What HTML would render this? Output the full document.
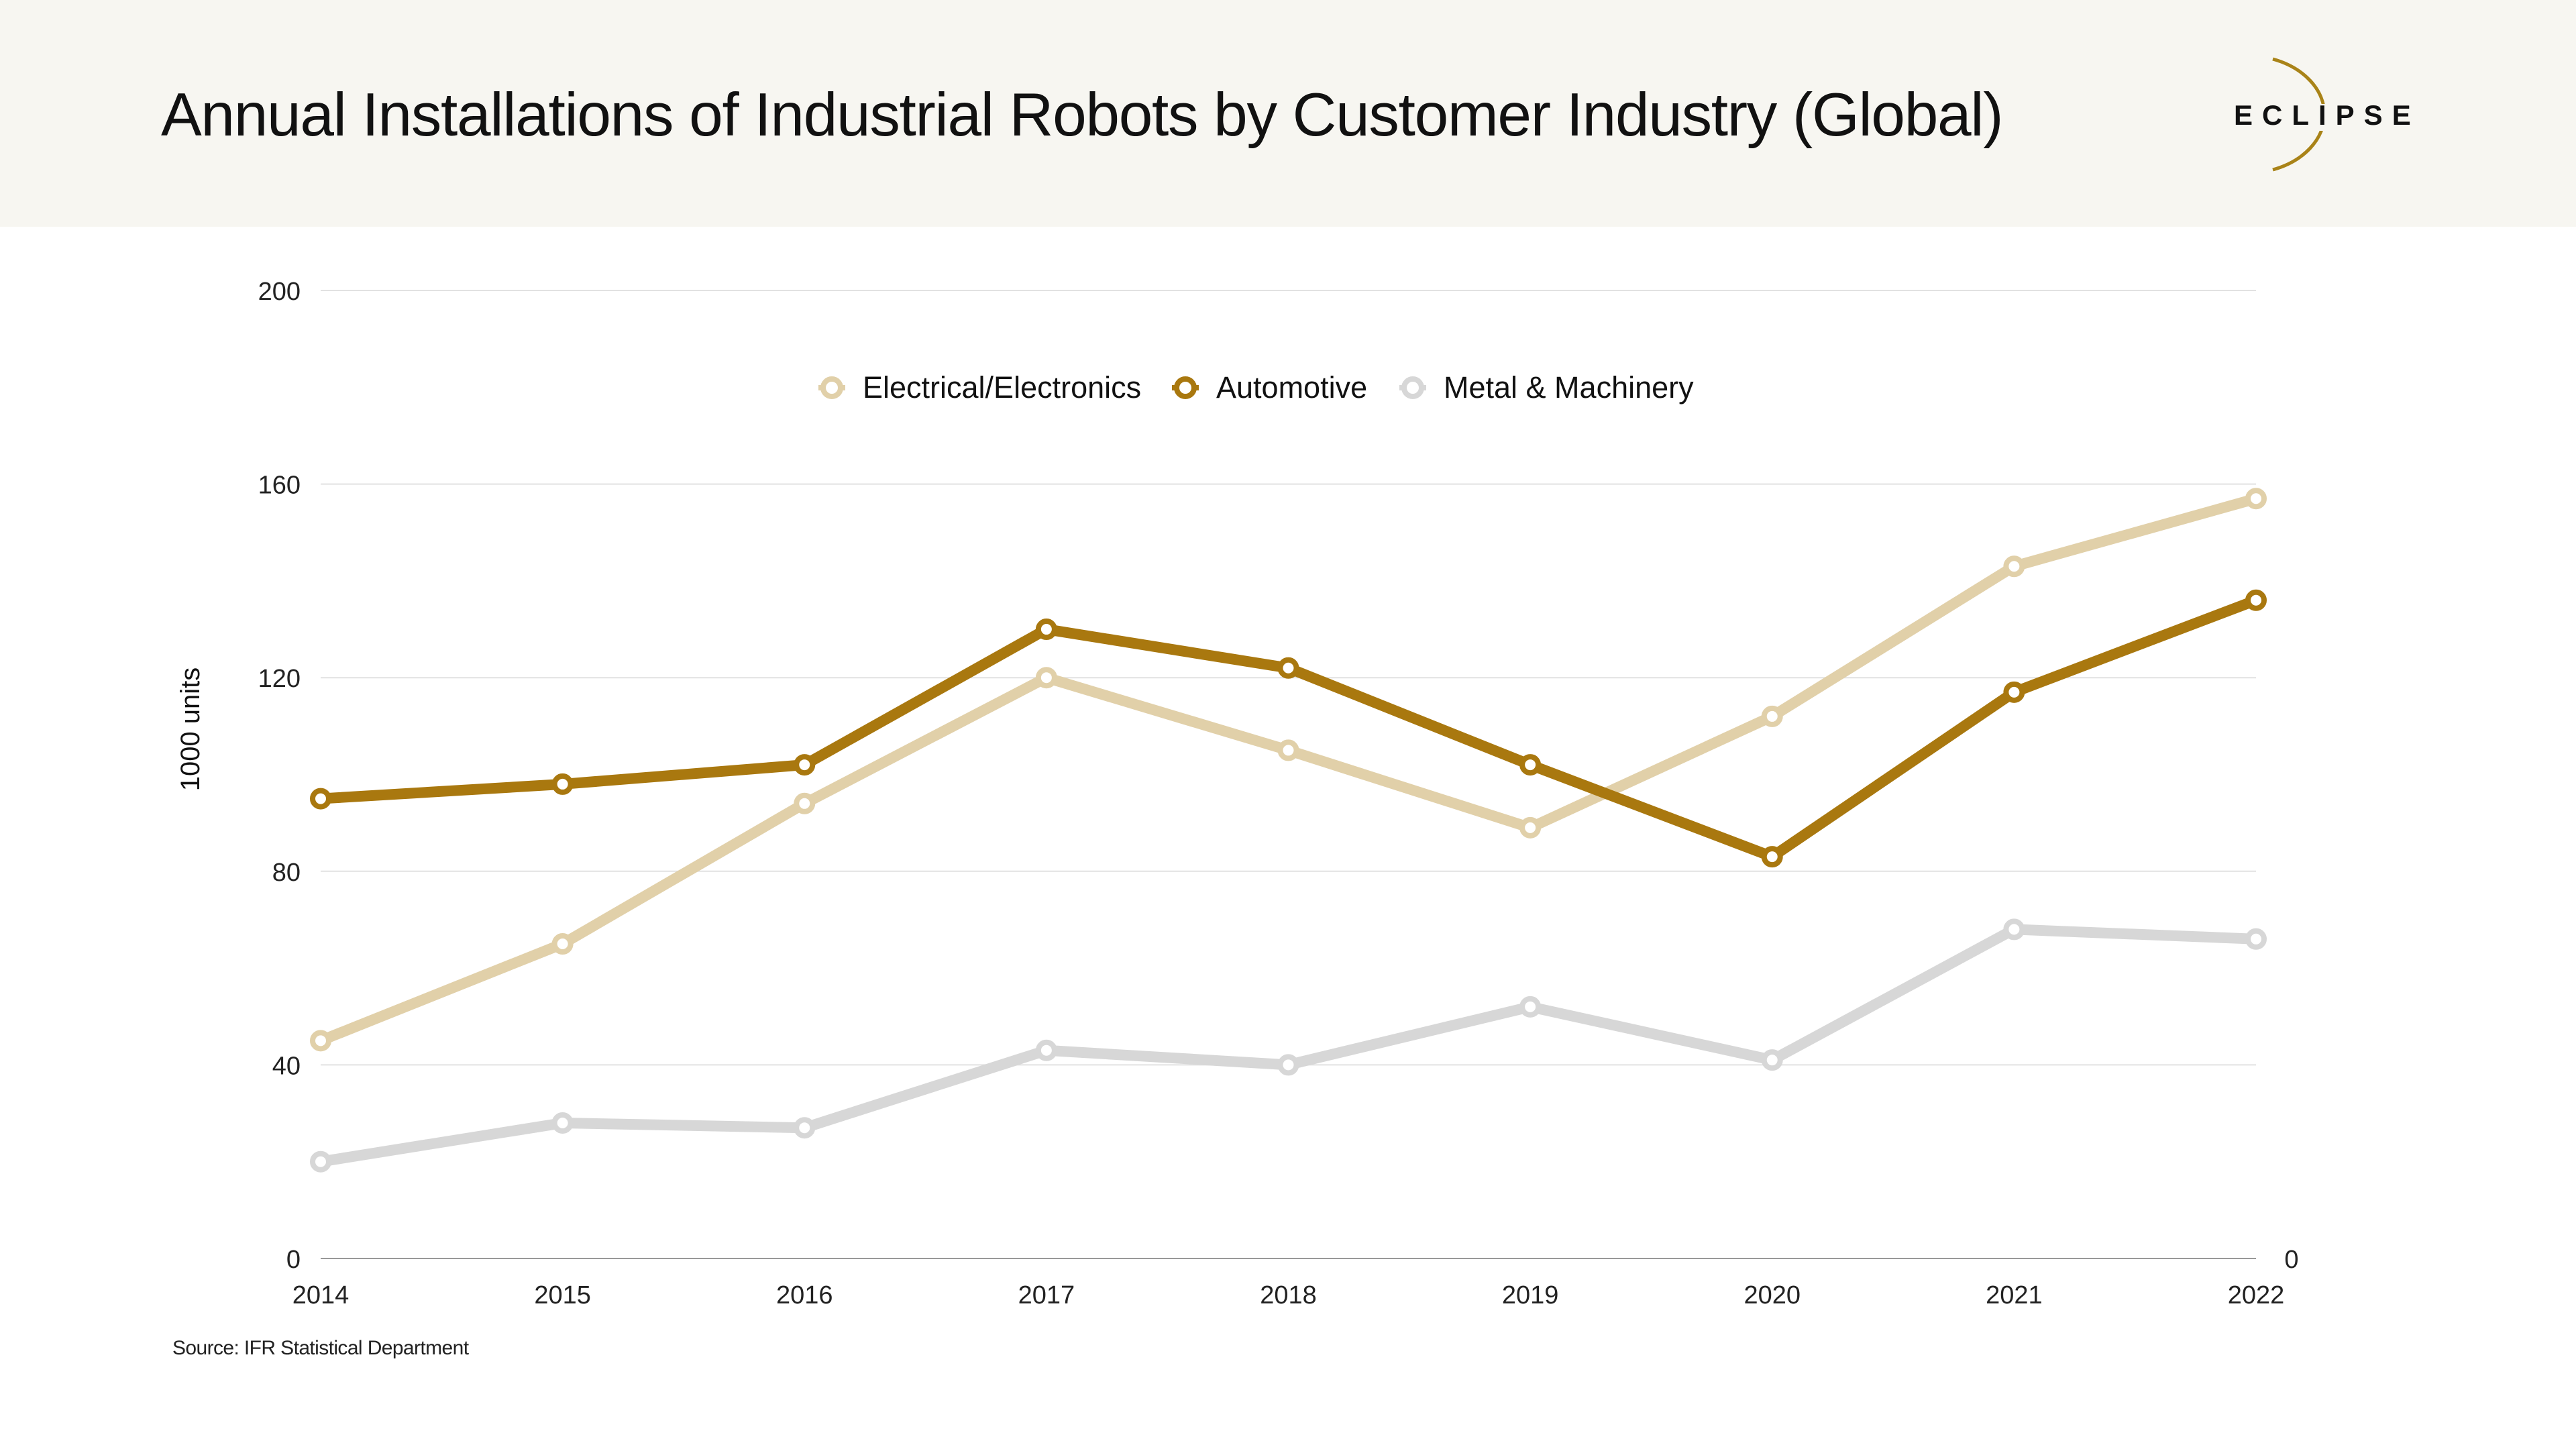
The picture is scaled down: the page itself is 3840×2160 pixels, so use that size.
<!DOCTYPE html>
<html><head><meta charset="utf-8"><style>
body{margin:0;width:3840px;height:2160px;background:#fff;font-family:"Liberation Sans",sans-serif;overflow:hidden;position:relative}
#hdr{position:absolute;left:0;top:0;width:3840px;height:338px;background:#f7f6f1}
#title{position:absolute;left:240px;top:120px;font-size:91px;color:#111;letter-spacing:-1.3px;white-space:nowrap}
#src{position:absolute;left:257px;top:1993px;font-size:30px;color:#222;letter-spacing:-0.6px}
</style></head><body>
<div id="hdr"></div>
<div id="title">Annual Installations of Industrial Robots by Customer Industry (Global)</div>
<svg style="position:absolute;left:0;top:0" width="3840" height="338">
<path d="M3388 88 A118 88 0 0 1 3388 253" fill="none" stroke="#a98318" stroke-width="5"/>
<rect x="3450" y="155" width="22" height="40" fill="#f7f6f1"/>
<text x="3330" y="186" font-size="42" font-weight="bold" letter-spacing="14" fill="#111" font-family="Liberation Sans, sans-serif">ECLIPSE</text>
</svg>
<div id="src">Source: IFR Statistical Department</div>
<svg id="chart" style="position:absolute;left:0;top:0" width="3840" height="2160"></svg>
<script>
const years=["2014","2015","2016","2017","2018","2019","2020","2021","2022"];
const electrical=[45,65,94,120,105,89,112,143,157];
const automotive=[95,98,102,130,122,102,83,117,136];
const metal=[20,28,27,43,40,52,41,68,66];
const yTicks=[0,40,80,120,160,200];
const seriesNames=["Electrical/Electronics","Automotive","Metal & Machinery"];
const seriesColors=["#e1d0a9","#a9780f","#d7d7d7"];
const NS="http://www.w3.org/2000/svg";
const svg=document.getElementById('chart');
const x0=478,x1=3363,yb=1876,yt=433;
const xs=i=>x0+(x1-x0)*i/(years.length-1);
const ys=v=>yb-(yb-yt)*v/200;
function mk(t,a){const e=document.createElementNS(NS,t);for(const k in a)e.setAttribute(k,a[k]);svg.appendChild(e);return e;}
yTicks.forEach(v=>{
 if(v>0){const g=mk('line',{x1:x0,x2:x1,y1:ys(v),y2:ys(v),stroke:'#e2e2e2','stroke-width':2});
 
 }
 const t=mk('text',{x:448,y:ys(v)+14,'text-anchor':'end','font-size':38,fill:'#222'});t.textContent=v;
 
 
});
const ax=mk('line',{x1:x0,x2:x1,y1:yb,y2:yb,stroke:'#999','stroke-width':2});


const r0=mk('text',{x:3416,y:yb+14,'text-anchor':'middle','font-size':38,fill:'#222'});r0.textContent='0';


years.forEach((y,i)=>{const t=mk('text',{x:xs(i),y:1943,'text-anchor':'middle','font-size':38,fill:'#222'});t.textContent=y;
 
 });
const yt2=mk('text',{x:0,y:0,transform:'translate(297,1087) rotate(-90)','text-anchor':'middle','font-size':40,fill:'#111'});yt2.textContent='1000 units';


[metal,electrical,automotive].forEach(d=>{
 const idx=d===electrical?0:d===automotive?1:2;
 const p=mk('polyline',{points:d.map((v,i)=>xs(i)+','+ys(v)).join(' '),fill:'none',stroke:seriesColors[idx],'stroke-width':16,'stroke-linejoin':'round','stroke-linecap':'round'});
 
 
 d.forEach((v,i)=>{const c=mk('circle',{cx:xs(i),cy:ys(v),r:12,fill:'#fff',stroke:seriesColors[idx],'stroke-width':8});
  
  });
});
const lx=[1240,1767,2106];
seriesNames.forEach((n,i)=>{
 const l=mk('line',{x1:lx[i]-20,x2:lx[i]+20,y1:578,y2:578,stroke:seriesColors[i],'stroke-width':8});
 
 
 const c=mk('circle',{cx:lx[i],cy:578,r:13,fill:'#fff',stroke:seriesColors[i],'stroke-width':8});
 
 
 const t=mk('text',{x:lx[i]+46,y:593,'font-size':45,fill:'#111'});t.textContent=n;
 
 
});
</script>
</body></html>
